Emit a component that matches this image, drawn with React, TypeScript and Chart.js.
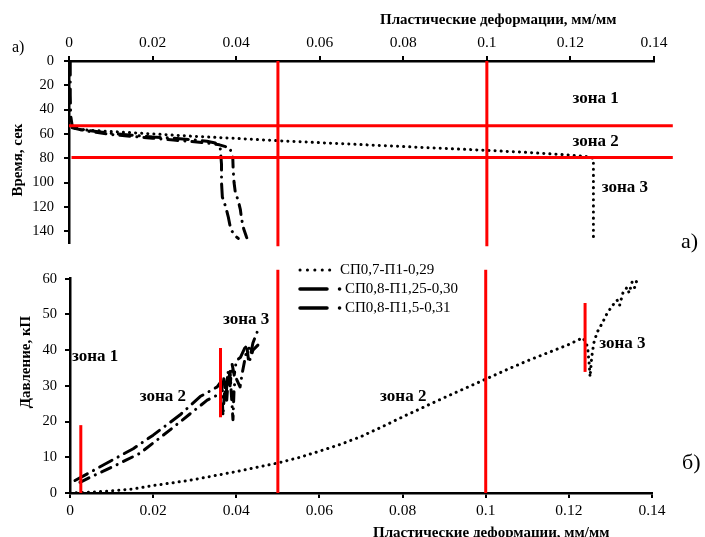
import React, { useEffect, useRef } from 'react';
import { Chart, registerables } from 'chart.js';

Chart.register(...registerables);

const SERIF = "'Liberation Serif', 'Times New Roman', serif";

// ---------------- data ----------------
const seriesNames = ['СП0,7-П1-0,29', 'СП0,8-П1,25-0,30', 'СП0,8-П1,5-0,31'];

const strainTicks = [0, 0.02, 0.04, 0.06, 0.08, 0.1, 0.12, 0.14];
const strainTickLabels = ['0', '0.02', '0.04', '0.06', '0.08', '0.1', '0.12', '0.14'];
const timeTicks = [0, 20, 40, 60, 80, 100, 120, 140];
const pressureTicks = [0, 10, 20, 30, 40, 50, 60];

// top panel (a): time vs plastic strain
const topDotStrain = [0, 0.0025, 0.01, 0.02, 0.03, 0.04, 0.05, 0.06, 0.07, 0.08, 0.09, 0.1, 0.11, 0.12, 0.1236, 0.1255, 0.1255, 0.1255, 0.1255];
const topDotTime = [54, 56.5, 58, 60, 62, 63.7, 65.6, 67.2, 68.8, 70.4, 72, 73.5, 75.3, 77.4, 78.5, 80, 100, 125, 149];

const topAStrain = [0.0003, 0.0003, 0.0004, 0.0008, 0.004, 0.01, 0.015, 0.02, 0.025, 0.03, 0.033, 0.035, 0.0362, 0.0365, 0.0365, 0.0367, 0.0375, 0.0381, 0.0385, 0.039, 0.0398, 0.0405];
const topATime = [0, 28, 45, 54, 57, 59.5, 61, 62.5, 63.5, 65, 66, 67.5, 72, 85, 100, 112, 120, 128, 135, 140, 144, 146];

const topBStrain = [0.0008, 0.004, 0.01, 0.015, 0.02, 0.025, 0.03, 0.033, 0.036, 0.0385, 0.0392, 0.0393, 0.0395, 0.0398, 0.0405, 0.041, 0.0413, 0.0418, 0.0425, 0.043];
const topBTime = [55, 57.5, 60.5, 62, 63.5, 65, 66.5, 67.5, 69, 71.5, 80, 90, 100, 108, 115, 122, 130, 138, 145, 149];

const topRedVerticalStrain = [0.05, 0.1];
const topRedVerticalTime = [0, 152.5];
const topRedHorizontalTime = [53.3, 79.3];
const topRedHorizontalStart = [0, 0.0006];
const topRedHorizontalEnd = 0.1445;

// bottom panel (б): pressure vs plastic strain
const botDotStrain = [0, 0.005, 0.01, 0.015, 0.02, 0.025, 0.03, 0.035, 0.04, 0.045, 0.05, 0.055, 0.06, 0.065, 0.07, 0.075, 0.08, 0.085, 0.09, 0.095, 0.1, 0.105, 0.11, 0.115, 0.12, 0.1234, 0.1245, 0.1249, 0.1251, 0.1255, 0.126, 0.1268, 0.128, 0.1292, 0.1305, 0.1316, 0.1322, 0.133, 0.134, 0.1345, 0.1352, 0.1358, 0.1364];
const botDotPressure = [0, 0.2, 0.6, 1.1, 2.1, 2.9, 3.8, 4.9, 6, 7.2, 8.4, 9.9, 11.7, 13.6, 15.8, 18.5, 21.3, 24, 26.7, 29.3, 31.9, 34.5, 37, 39.3, 41.6, 43.5, 41, 36, 32.5, 38, 42, 45, 47.5, 50.3, 52.5, 54, 52.5, 56, 57.6, 56, 59, 57.5, 59.7];

const botAStrain = [0.0012, 0.005, 0.01, 0.0152, 0.02, 0.0265, 0.0313, 0.0354, 0.0362, 0.0366, 0.037, 0.0375, 0.038, 0.0385, 0.039, 0.0395, 0.04, 0.041, 0.042, 0.0428, 0.0435, 0.044, 0.045];
const botAPressure = [3.5, 5.9, 9.1, 12.4, 16.2, 21.9, 27, 29.7, 31, 28, 32, 27, 34, 30, 36, 33, 37, 38, 40.5, 41.5, 39, 42, 45];

const botBStrain = [0.0024, 0.005, 0.01, 0.0168, 0.024, 0.033, 0.0361, 0.0365, 0.0368, 0.0372, 0.0377, 0.038, 0.0385, 0.0388, 0.0392, 0.0395, 0.04, 0.0409, 0.0415, 0.042, 0.0426, 0.043, 0.0435, 0.044, 0.0452];
const botBPressure = [3, 4.5, 7.2, 11.1, 17.6, 26, 27.8, 30, 21.6, 29, 26, 31, 34, 28, 20.5, 30, 32, 29.7, 34, 37, 40.5, 36.5, 38, 40, 41.4];

const botRedVerticalStrain = [0.05, 0.1];
const botRedVerticalPressure = [0, 62.5];
const botMarkerStrain = [0.0026, 0.0362, 0.1239];
const botMarkerLow = [0, 21.2, 33.9];
const botMarkerHigh = [19, 40.6, 53.2];

// ---------------- helpers ----------------
const pts = (xs: number[], ys: number[]) => xs.map((x, i) => ({ x, y: ys[i] }));

const RED = '#ff0000';
const DOT_DASH = [0.1, 6];
const A_DASH = [14, 7, 0.1, 7];
const B_DASH = [10, 7, 0.1, 7];

function blackLine(data: any[], dash: number[], width = 3) {
  return {
    data,
    borderColor: '#000',
    borderWidth: width,
    borderDash: dash,
    borderCapStyle: 'round',
    borderJoinStyle: 'round',
    pointRadius: 0,
    tension: 0,
    fill: false,
  };
}
function redLine(data: any[], width = 3) {
  return { data, borderColor: RED, borderWidth: width, pointRadius: 0, clip: false, fill: false, tension: 0 };
}

const annotPlugin = {
  id: 'annot',
  afterDatasetsDraw(chart: any, _args: any, opts: any) {
    const ctx = chart.ctx;
    const xs = chart.scales.x;
    const ys = chart.scales.y;
    (opts.texts || []).forEach((t: any) => {
      ctx.save();
      ctx.font = t.font;
      ctx.fillStyle = '#000';
      ctx.textAlign = t.align || 'left';
      ctx.textBaseline = 'middle';
      const px = t.data ? xs.getPixelForValue(t.x) : t.x;
      const py = t.data ? ys.getPixelForValue(t.y) : t.y;
      ctx.translate(px, py);
      if (t.rotate) ctx.rotate(t.rotate);
      ctx.fillText(t.text, 0, 0);
      ctx.restore();
    });
    const lg = opts.legend;
    if (lg) {
      lg.items.forEach((it: any, i: number) => {
        const y = lg.y + i * lg.dy;
        ctx.save();
        ctx.strokeStyle = '#000';
        ctx.lineWidth = it.width;
        ctx.lineCap = 'round';
        ctx.setLineDash(it.dash);
        ctx.beginPath();
        ctx.moveTo(lg.x, y);
        ctx.lineTo(lg.x + it.len, y);
        ctx.stroke();
        ctx.setLineDash([]);
        ctx.font = lg.font;
        ctx.fillStyle = '#000';
        ctx.textAlign = 'left';
        ctx.textBaseline = 'middle';
        ctx.fillText(it.text, it.textX, y);
        ctx.restore();
      });
    }
  },
};

const tickLabel = (v: any) => {
  const i = strainTicks.findIndex((s) => Math.abs(s - v) < 1e-9);
  return i >= 0 ? strainTickLabels[i] : '';
};

function axisCommon(size: number, padding: number) {
  return {
    grid: { display: true, drawOnChartArea: false, drawTicks: true, tickLength: 5, color: '#000', lineWidth: 2 },
    border: { display: true, color: '#000', width: 2.5 },
    ticks: { font: { family: SERIF, size }, color: '#000', padding, maxRotation: 0, autoSkip: false },
  };
}

function makeTop(): any {
  const datasets: any[] = [
    ...topRedVerticalStrain.map((s) => redLine(pts([s, s], topRedVerticalTime))),
    ...topRedHorizontalTime.map((t, i) => redLine(pts([topRedHorizontalStart[i], topRedHorizontalEnd], [t, t]))),
    blackLine(pts(topDotStrain, topDotTime), DOT_DASH),
    blackLine(pts(topAStrain, topATime), A_DASH),
    blackLine(pts(topBStrain, topBTime), B_DASH),
  ];
  const xc = axisCommon(15.5, 4);
  const yc = axisCommon(14.5, 10);
  return {
    type: 'line',
    data: { datasets },
    options: {
      responsive: false,
      animation: false,
      devicePixelRatio: 1,
      events: [],
      layout: { padding: { left: 0, right: 51, top: 0, bottom: 3 } },
      plugins: {
        legend: { display: false },
        tooltip: { enabled: false },
        annot: {
          texts: [
            { text: 'Пластические деформации, мм/мм', x: 380, y: 20, font: `bold 15px ${SERIF}` },
            { text: 'а)', x: 12, y: 48, font: `16px ${SERIF}` },
            { text: 'Время, сек', x: 18, y: 160, font: `bold 15px ${SERIF}`, align: 'center', rotate: -Math.PI / 2 },
            { text: 'а)', x: 681, y: 242, font: `22px ${SERIF}` },
            { text: 'зона 1', data: true, x: 0.1205, y: 30.7, font: `bold 17px ${SERIF}` },
            { text: 'зона 2', data: true, x: 0.1205, y: 66.4, font: `bold 17px ${SERIF}` },
            { text: 'зона 3', data: true, x: 0.1275, y: 104.3, font: `bold 17px ${SERIF}` },
          ],
        },
      },
      scales: {
        x: {
          type: 'linear',
          position: 'top',
          min: 0,
          max: 0.14,
          afterBuildTicks: (s: any) => { s.ticks = strainTicks.map((v) => ({ value: v })); },
          afterFit: (s: any) => { s.height = 61; },
          grid: xc.grid,
          border: xc.border,
          ticks: { ...xc.ticks, callback: tickLabel },
        },
        y: {
          type: 'linear',
          reverse: true,
          min: 0,
          max: 150,
          afterBuildTicks: (s: any) => { s.ticks = timeTicks.map((v) => ({ value: v })); },
          afterFit: (s: any) => { s.width = 69; },
          grid: yc.grid,
          border: yc.border,
          ticks: { ...yc.ticks, callback: (v: any) => String(v) },
        },
      },
    },
    plugins: [annotPlugin],
  };
}

function makeBottom(): any {
  const datasets: any[] = [
    ...botRedVerticalStrain.map((s) => redLine(pts([s, s], botRedVerticalPressure))),
    ...botMarkerStrain.map((s, i) => redLine(pts([s, s], [botMarkerLow[i], botMarkerHigh[i]]))),
    blackLine(pts(botDotStrain, botDotPressure), DOT_DASH),
    blackLine(pts(botAStrain, botAPressure), A_DASH),
    blackLine(pts(botBStrain, botBPressure), B_DASH),
  ];
  const xc = axisCommon(15.5, 4);
  const yc = axisCommon(14.5, 8);
  return {
    type: 'line',
    data: { datasets },
    options: {
      responsive: false,
      animation: false,
      devicePixelRatio: 1,
      events: [],
      layout: { padding: { left: 0, right: 53, top: 9, bottom: 0 } },
      plugins: {
        legend: { display: false },
        tooltip: { enabled: false },
        annot: {
          texts: [
            { text: 'Пластические деформации, мм/мм', x: 373, y: 271, font: `bold 15px ${SERIF}` },
            { text: 'Давление, кП', x: 26, y: 100, font: `bold 15px ${SERIF}`, align: 'center', rotate: -Math.PI / 2 },
            { text: 'б)', x: 682, y: 201, font: `22px ${SERIF}` },
            { text: 'зона 1', data: true, x: 0.0005, y: 38.1, font: `bold 17px ${SERIF}` },
            { text: 'зона 2', data: true, x: 0.0168, y: 27, font: `bold 17px ${SERIF}` },
            { text: 'зона 3', data: true, x: 0.0368, y: 48.6, font: `bold 17px ${SERIF}` },
            { text: 'зона 2', data: true, x: 0.0746, y: 27, font: `bold 17px ${SERIF}` },
            { text: 'зона 3', data: true, x: 0.1273, y: 41.9, font: `bold 17px ${SERIF}` },
          ],
          legend: {
            x: 300,
            y: 8,
            dy: 19,
            font: `15px ${SERIF}`,
            items: [
              { text: seriesNames[0], dash: [0.1, 7.3], len: 37, width: 3, textX: 340 },
              { text: seriesNames[1], dash: [27, 12.5, 0.1, 100], len: 41, width: 3.5, textX: 345 },
              { text: seriesNames[2], dash: [27, 12.5, 0.1, 100], len: 41, width: 3.5, textX: 345 },
            ],
          },
        },
      },
      scales: {
        x: {
          type: 'linear',
          position: 'bottom',
          min: 0,
          max: 0.14,
          afterBuildTicks: (s: any) => { s.ticks = strainTicks.map((v) => ({ value: v })); },
          afterFit: (s: any) => { s.height = 44; },
          grid: xc.grid,
          border: xc.border,
          ticks: { ...xc.ticks, callback: tickLabel },
        },
        y: {
          type: 'linear',
          min: 0,
          max: 60,
          afterBuildTicks: (s: any) => { s.ticks = pressureTicks.map((v) => ({ value: v })); },
          afterFit: (s: any) => { s.width = 70; },
          grid: yc.grid,
          border: yc.border,
          ticks: { ...yc.ticks, callback: (v: any) => String(v) },
        },
      },
    },
    plugins: [annotPlugin],
  };
}

function ChartBox({ make, top, height }: { make: () => any; top: number; height: number }) {
  const ref = useRef<HTMLCanvasElement>(null);
  useEffect(() => {
    const chart = new Chart(ref.current as HTMLCanvasElement, make());
    return () => chart.destroy();
  }, [make]);
  return (
    <canvas
      ref={ref}
      width={705}
      height={height}
      style={{ position: 'absolute', left: 0, top, width: 705, height }}
    />
  );
}

export default function App() {
  return (
    <div style={{ position: 'absolute', left: 0, top: 0, width: 705, height: 537, background: '#fff', overflow: 'hidden' }}>
      <ChartBox make={makeTop} top={0} height={262} />
      <ChartBox make={makeBottom} top={262} height={275} />
    </div>
  );
}
